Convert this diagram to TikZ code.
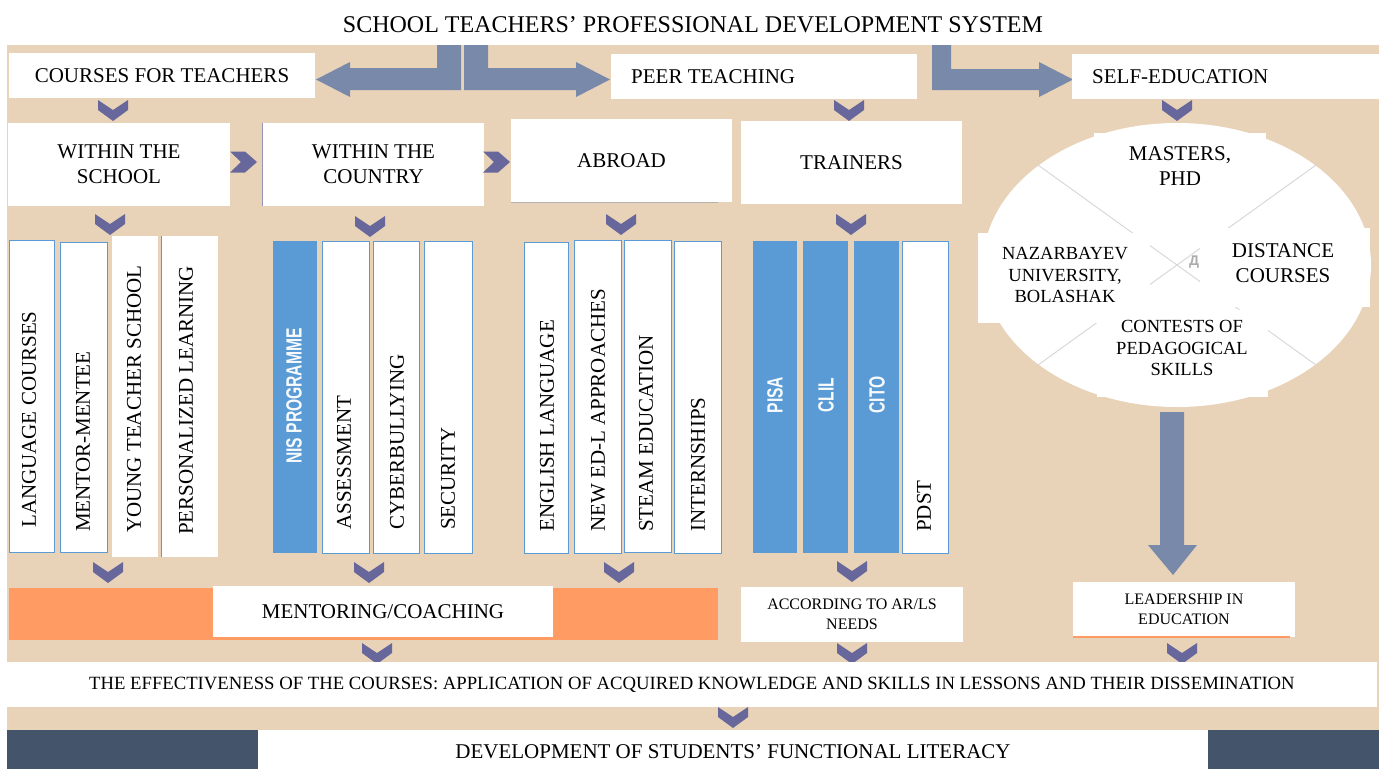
\documentclass[tikz,border=0pt]{standalone}
\usepackage{fontspec}
\setmainfont{Liberation Serif}
\newfontfamily\narrowsans[FakeStretch=0.71]{Liberation Sans}
\newfontfamily\cyrsans{Liberation Sans}
\usetikzlibrary{shapes.geometric}
\definecolor{beige}{HTML}{E8D3B8}
\definecolor{slate}{HTML}{7889A9}
\definecolor{chevc}{HTML}{67679B}
\definecolor{barblue}{HTML}{5B9BD5}
\definecolor{orng}{HTML}{FF9B63}
\definecolor{darkslate}{HTML}{44546A}
\definecolor{xline}{HTML}{D9D9D9}
\tikzset{
  wbox/.style={fill=white, draw=none, inner sep=0pt, align=center},
  obox/.style={fill=orng, draw=none, inner sep=0pt},
  dbox/.style={fill=darkslate, draw=none, inner sep=0pt},
  wbar/.style={fill=white, draw=barblue, line width=0.9pt, inner sep=0pt},
  nbar/.style={fill=white, draw=none, inner sep=0pt},
  bbar/.style={fill=barblue, draw=none, inner sep=0pt},
  chev/.style={fill=chevc, draw=none},
  blockarrow/.style={fill=slate, draw=none},
  ftitle/.style={font=\fontsize{24}{28}\selectfont},
  fbig/.style={font=\fontsize{21}{25}\selectfont},
  fmid/.style={font=\fontsize{18.5}{21.5}\selectfont},
  feff/.style={font=\fontsize{18.7}{22}\selectfont},
  fsmall/.style={font=\fontsize{16}{19.5}\selectfont},
  plain/.style={inner sep=0pt, align=center},
  vtext/.style={rotate=90, anchor=west, inner sep=0pt, font=\fontsize{21}{25}\selectfont},
  btext/.style={rotate=90, inner sep=0pt, text=white!96!barblue, font=\narrowsans\bfseries\fontsize{22}{24}\selectfont}
}
\newcommand{\bx}[7]{\node[#6, minimum width={(#4)-(#2)}, minimum height={(#5)-(#3)}] (#1) at ({((#2)+(#4))/2},{((#3)+(#5))/2}) {#7};}
\newcommand{\chd}[2]{\fill[chev] ({#1-15},#2) -- (#1,{#2+10}) -- ({#1+15},#2) -- ({#1+15},{#2+10}) -- (#1,{#2+21}) -- ({#1-15},{#2+10}) -- cycle;}
\newcommand{\chr}[2]{\fill[chev] (#1,{#2-10.5}) -- ({#1+15},{#2-10.5}) -- ({#1+27},#2) -- ({#1+15},{#2+10.5}) -- (#1,{#2+10.5}) -- ({#1+11},#2) -- cycle;}
\begin{document}
\begin{tikzpicture}[x=1pt,y=-1pt]
\useasboundingbox (0,0) rectangle (1379,769);
\fill[white] (0,0) rectangle (1379,769);
\fill[beige] (7,45) rectangle (1379,730);

% title
\node[ftitle, plain] (title) at (693,24.5) {SCHOOL TEACHERS’ PROFESSIONAL DEVELOPMENT SYSTEM};

% block arrows from the title
\fill[blockarrow] (437,45) -- (461,45) -- (461,90) -- (350,90) -- (350,97) -- (316,79.5) -- (350,62) -- (350,68) -- (437,68) -- cycle;
\fill[blockarrow] (464,45) -- (488,45) -- (488,68) -- (576,68) -- (576,62) -- (610,79.5) -- (576,97) -- (576,90) -- (464,90) -- cycle;
\fill[blockarrow] (932,45) -- (951,45) -- (951,69) -- (1039,69) -- (1039,62) -- (1073,79.5) -- (1039,97) -- (1039,90) -- (932,90) -- cycle;

% row 1
\bx{courses}{9}{53}{315}{98}{wbox, fbig}{COURSES FOR TEACHERS}
\bx{peer}{611}{54}{917}{99}{wbox}{}
\node[fbig, plain, anchor=west] (peertxt) at (631,77) {PEER TEACHING};
\bx{self}{1072}{54}{1379}{99}{wbox}{}
\node[fbig, plain, anchor=west] (selftxt) at (1092,77) {SELF-EDUCATION};

\chd{113}{100}
\chd{849}{100}
\chd{1177}{100}

% row 2
\bx{school}{8}{123}{230}{206}{wbox, fbig}{WITHIN THE\\SCHOOL}
\bx{country}{263}{123}{484}{206}{wbox, fbig}{WITHIN THE\\COUNTRY}
\draw[chevc!70, line width=1pt] (country.north west) -- (country.south west);
\bx{abroad}{511}{119}{732}{202}{wbox, fbig}{ABROAD}
\draw[gray!60, line width=1pt] (abroad.south west) -- ([xshift=-14pt]abroad.south east);
\bx{trainers}{741}{121}{962}{204}{wbox, fbig}{TRAINERS}

\chr{230}{162}
\chr{483}{162}

% ellipse of self-education
\node[ellipse, fill=white, draw=none, inner sep=0pt, minimum width=388, minimum height=284] (ell) at (1177,265) {};
\draw[xline, line width=1pt] (1038,165) -- (1316,365);
\draw[xline, line width=1pt] (1316,165) -- (1038,365);
\node[font=\cyrsans\bfseries\fontsize{14}{14}\selectfont, text=gray!65, inner sep=0pt] (dd) at (1194,262) {Д};
\bx{masters}{1094}{133}{1266}{200}{wbox, fbig}{MASTERS,\\PHD}
\bx{naz}{978}{233}{1150}{323}{wbox}{}
\node[fmid, plain] (naztxt) at (1065,275) {NAZARBAYEV\\UNIVERSITY,\\BOLASHAK};
\bx{dist}{1200}{228}{1370}{307}{wbox}{}
\node[fbig, plain] (disttxt) at (1283,263) {DISTANCE\\COURSES};
\bx{cont}{1097}{310}{1268}{397}{wbox}{}
\node[fmid, plain] (conttxt) at (1182,348) {CONTESTS OF\\PEDAGOGICAL\\SKILLS};

% big arrow down from ellipse
\fill[blockarrow] (1160,412) -- (1184,412) -- (1184,545) -- (1197,545) -- (1173,575) -- (1148,545) -- (1160,545) -- cycle;

\chd{110}{214}
\chd{370}{216}
\chd{621}{214}
\chd{851}{214}

% bars: within the school
\bx{b1}{9}{240}{54}{552}{wbar}{}
\node[vtext] (t1) at (29,528) {LANGUAGE COURSES};
\bx{b2}{60}{242}{107}{552}{wbar}{}
\node[vtext] (t2) at (83,532) {MENTOR-MENTEE};
\bx{b3}{112}{236}{158}{557}{nbar}{}
\node[vtext] (t3) at (134,533) {YOUNG TEACHER SCHOOL};
\bx{b4}{162}{236}{218}{557}{nbar}{}
\draw[barblue, line width=1pt] (b4.north west) -- (b4.south west);
\node[vtext] (t4) at (186,535) {PERSONALIZED LEARNING};

% bars: within the country
\bx{b5}{273}{241}{317}{553}{bbar}{}
\node[btext] (t5) at (294,396) {NIS PROGRAMME};
\bx{b6}{322}{241}{369}{553}{wbar}{}
\node[vtext] (t6) at (344,530) {ASSESSMENT};
\bx{b7}{373}{241}{419}{553}{wbar}{}
\node[vtext] (t7) at (397,530) {CYBERBULLYING};
\bx{b8}{424}{241}{472}{553}{wbar}{}
\node[vtext] (t8) at (448,530) {SECURITY};

% bars: abroad
\bx{b9}{524}{242}{568}{553}{wbar}{}
\node[vtext] (t9) at (547,532) {ENGLISH LANGUAGE};
\bx{b10}{574}{240}{621}{553}{wbar}{}
\node[vtext] (t10) at (598,532) {NEW ED-L APPROACHES};
\bx{b11}{624}{240}{671}{552}{wbar}{}
\node[vtext] (t11) at (646,532) {STEAM EDUCATION};
\bx{b12}{674}{241}{721}{553}{wbar}{}
\node[vtext] (t12) at (698,532) {INTERNSHIPS};

% bars: trainers
\bx{b13}{753}{241}{797}{553}{bbar}{}
\node[btext] (t13) at (775,395) {PISA};
\bx{b14}{803}{241}{848}{553}{bbar}{}
\node[btext] (t14) at (826,395) {CLIL};
\bx{b15}{854}{241}{899}{553}{bbar}{}
\node[btext] (t15) at (877,395) {CITO};
\bx{b16}{902}{241}{948}{553}{wbar}{}
\node[vtext] (t16) at (924,532) {PDST};

\chd{108}{562}
\chd{369}{562}
\chd{619}{562}
\chd{852}{561}

% mentoring row
\bx{mentband}{9}{588}{718}{640}{obox}{}
\bx{mentor}{213}{586}{553}{637}{wbox, fbig}{MENTORING/COACHING}
\bx{accord}{741}{587}{963}{642}{wbox, fsmall}{ACCORDING TO AR/LS\\NEEDS}
\bx{lead}{1073}{582}{1295}{637}{wbox, fsmall}{LEADERSHIP IN\\EDUCATION}
\draw[orng, line width=1.5pt] (lead.south west) -- ([xshift=-5pt]lead.south east);

\chd{377}{643}
\chd{852}{643}
\chd{1182}{643}

% effectiveness
\bx{eff}{7}{662}{1377}{707}{wbox, feff}{THE EFFECTIVENESS OF THE COURSES: APPLICATION OF ACQUIRED KNOWLEDGE AND SKILLS IN LESSONS AND THEIR DISSEMINATION}

\chd{733}{707}

% bottom row
\bx{dl}{7}{730}{258}{769}{dbox}{}
\bx{dr}{1208}{730}{1379}{769}{dbox}{}
\node[fbig, plain] (dev) at (733,752) {DEVELOPMENT OF STUDENTS’ FUNCTIONAL LITERACY};
\end{tikzpicture}
\end{document}
